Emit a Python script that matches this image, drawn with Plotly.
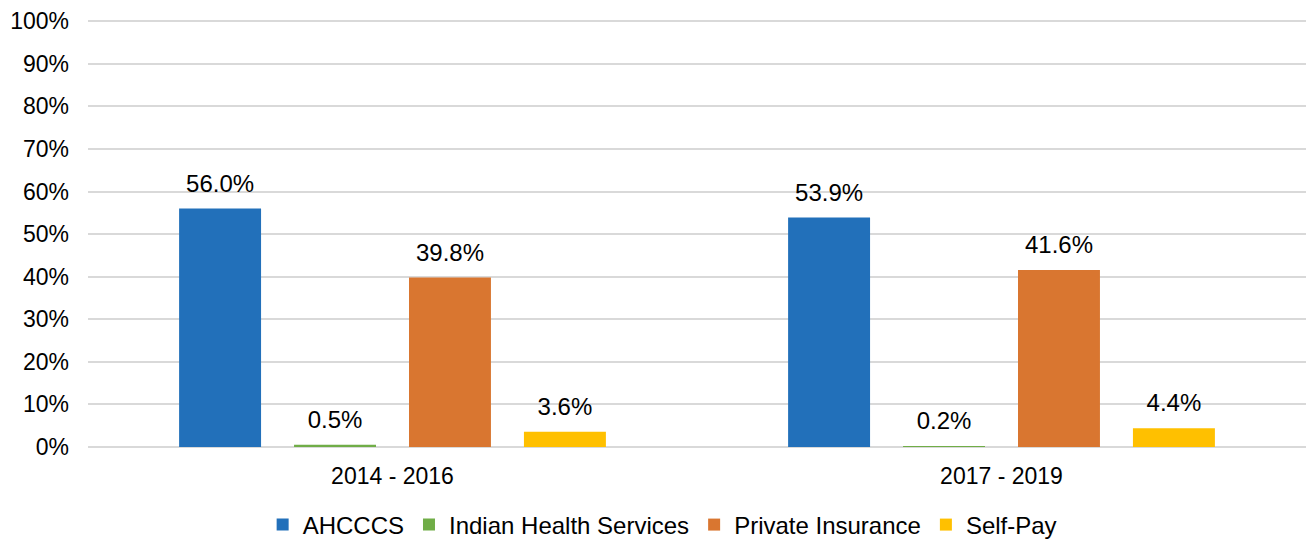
import plotly.graph_objects as go

categories = ["2014 - 2016", "2017 - 2019"]
series_names = ["AHCCCS", "Indian Health Services", "Private Insurance", "Self-Pay"]
ahcccs = [56.0, 53.9]
ihs = [0.5, 0.2]
private = [39.8, 41.6]
selfpay = [3.6, 4.4]
colors = ["#2270ba", "#70ad47", "#d97630", "#ffc000"]
y_ticks = list(range(0, 101, 10))
y_tick_labels = [f"{v}%" for v in y_ticks]

FONT = "Liberation Sans, Arial, sans-serif"
fig = go.Figure()
all_vals = [ahcccs, ihs, private, selfpay]
for i, (name, vals, col) in enumerate(zip(series_names, all_vals, colors)):
    fig.add_trace(go.Bar(
        x=categories, y=vals, name=name, marker_color=col,
        marker_line_width=0, offsetgroup=str(i), hoverinfo="skip",
    ))
for i, (name, vals) in enumerate(zip(series_names, all_vals)):
    fig.add_trace(go.Scatter(
        x=categories, y=vals, mode="markers+text", offsetgroup=str(i),
        marker=dict(size=16, opacity=0), showlegend=False,
        text=[f"{v:.1f}%" for v in vals], textposition="top center",
        textfont=dict(size=24, color="#000000", family=FONT),
        cliponaxis=False, hoverinfo="skip",
    ))

fig.update_layout(
    width=1306, height=539,
    margin=dict(l=88, r=0, t=20, b=92),
    paper_bgcolor="white", plot_bgcolor="white",
    barmode="group", bargap=0.245, bargroupgap=0.287,
    scattermode="group", scattergap=0.245,
    font=dict(family=FONT, size=23, color="#000000"),
    showlegend=True,
    legend=dict(orientation="h", xref="container", yref="container",
                x=0.507, xanchor="center", y=0.026, yanchor="middle",
                font=dict(size=24), itemwidth=30, traceorder="normal"),
    xaxis=dict(showgrid=False, showline=False, ticks="", tickfont=dict(size=23),
               ticklabelstandoff=13),
    yaxis=dict(range=[0, 100.3], tickvals=y_ticks, ticktext=y_tick_labels,
               showgrid=True, gridcolor="#d9d9d9", gridwidth=2,
               zeroline=True, zerolinecolor="#d9d9d9", zerolinewidth=2,
               tickfont=dict(size=23), ticks="", ticklabelstandoff=18,
               automargin=False),
)
fig.write_html("out.html", config={"displayModeBar": False},
               post_script="document.body.style.margin='0';")
